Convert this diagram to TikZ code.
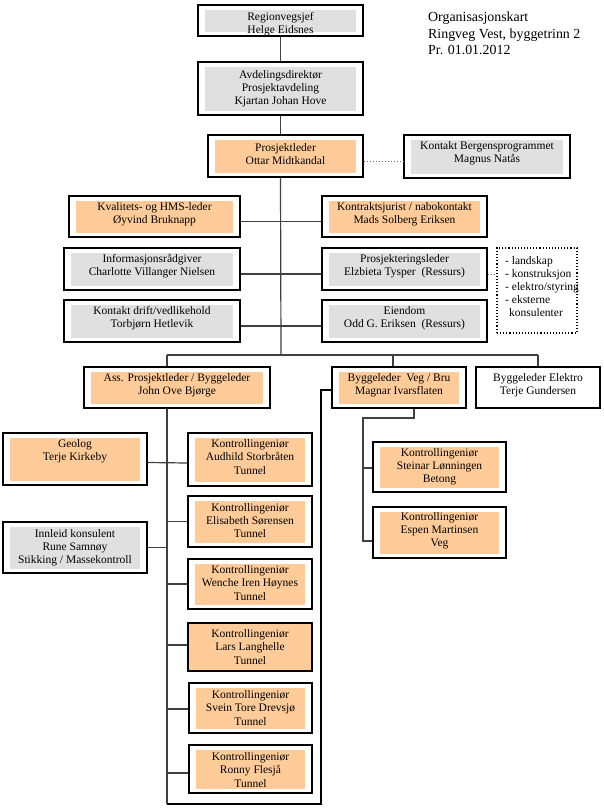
\documentclass[tikz,border=0pt]{standalone}
\usepackage{fontspec}
\setmainfont{Liberation Serif}
\usetikzlibrary{calc}
\definecolor{boxgray}{RGB}{224,224,224}
\definecolor{boxorange}{RGB}{255,204,153}
\newcommand\boxfont{\fontsize{11.5}{13.2}\selectfont}
\newcommand\titlefont{\fontsize{13.9}{16.4}\selectfont}
\tikzset{
  box/.style={draw=black, line width=1.3pt, fill=white, inner sep=0pt},
  ginner/.style={path picture={\fill[#1] ([xshift=7pt,yshift=-4.5pt]path picture bounding box.north west) rectangle ([xshift=-7pt,yshift=4.5pt]path picture bounding box.south east);}},
  gbox/.style={box, ginner=boxgray},
  obox/.style={box, ginner=boxorange},
  fullbox/.style={box, fill=boxorange},
  boxtext/.style={align=center, font=\boxfont, inner sep=0pt},
  conn/.style={draw=black!75, line width=1.2pt},
  dotline/.style={draw=black!55, line width=1pt, dotted},
}
% #1 style, #2 name, #3 cx, #4 cy, #5 width, #6 height, #7 text offset (down), #8 text
\newcommand\orgbox[8]{%
  \node[#1, minimum width=#5pt, minimum height=#6pt] (#2) at (#3,#4) {};
  \node[boxtext] (#2-t) at ($(#2.center)+(0,#7)$) {#8};
}
\begin{document}
\begin{tikzpicture}[x=1pt,y=-1pt]
\fill[white] (0,0) rectangle (603,809);
\useasboundingbox (0,0) rectangle (603,809);

% title
\node[anchor=north west, align=left, font=\titlefont, inner sep=0pt] (title) at (428,12)
  {Organisasjonskart\\Ringveg Vest, byggetrinn 2\\Pr. 01.01.2012};

% top chain
\orgbox{gbox}{rv}{280.5}{20.5}{165}{31}{4}{Regionvegsjef\\Helge Eidsnes}
\orgbox{gbox}{ad}{280.5}{88.5}{165}{53}{0}{Avdelingsdirektør\\Prosjektavdeling\\Kjartan Johan Hove}
\orgbox{obox}{pl}{285.5}{156}{155}{42}{-2}{Prosjektleder\\Ottar Midtkandal}
\orgbox{gbox}{kb}{487}{156.5}{166}{43}{-3}{Kontakt Bergensprogrammet\\Magnus Natås}

% staff
\orgbox{obox}{kv}{154.5}{216.5}{171}{41}{-2}{Kvalitets- og HMS-leder\\Øyvind Bruknapp}
\orgbox{obox}{kj}{404.5}{216.5}{165}{41}{-2}{Kontraktsjurist / nabokontakt\\Mads Solberg Eriksen}
\orgbox{gbox}{ir}{152}{269}{176}{42}{-3}{Informasjonsrådgiver\\Charlotte Villanger Nielsen}
\orgbox{gbox}{pr}{404.5}{269}{165}{42}{-2.5}{Prosjekteringsleder\\Elzbieta Tysper~~(Ressurs)}
\node[draw=black, dotted, line width=1.1pt, minimum width=80pt, minimum height=85pt, inner sep=0pt] (list) at (537,290.5) {};
\node[anchor=north west, align=left, font=\boxfont, inner sep=0pt] (listtext) at (505,256)
  {- landskap\\- konstruksjon\\- elektro/styring\\- eksterne\\\hspace*{4pt}konsulenter};
\orgbox{gbox}{kd}{152}{321}{176}{42}{-3}{Kontakt drift/vedlikehold\\Torbjørn Hetlevik}
\orgbox{gbox}{ei}{404.5}{321}{165}{42}{-3}{Eiendom\\Odd G. Eriksen~~(Ressurs)}

% second level
\orgbox{obox}{ass}{177}{387.5}{186}{41}{-2}{Ass. Prosjektleder / Byggeleder\\John Ove Bjørge}
\orgbox{obox}{veg}{399}{387.5}{134}{41}{-2}{Byggeleder~~Veg / Bru\\Magnar Ivarsflaten}
\orgbox{box}{el}{538}{387.5}{124}{41}{-2}{Byggeleder Elektro\\Terje Gundersen}

% left column
\orgbox{obox}{geo}{75}{459}{144}{52}{-8}{Geolog\\Terje Kirkeby}
\orgbox{gbox}{inn}{75}{547.5}{144}{51}{0}{Innleid konsulent\\Rune Samnøy\\Stikking / Massekontroll}

% control engineers under Ass.
\orgbox{obox}{k1}{250}{459.5}{124}{53}{-2.5}{Kontrollingeniør\\Audhild Storbråten\\Tunnel}
\orgbox{obox}{k2}{250}{521.5}{124}{51}{-1}{Kontrollingeniør\\Elisabeth Sørensen\\Tunnel}
\orgbox{obox}{k3}{250}{584}{124}{50}{-1}{Kontrollingeniør\\Wenche Iren Høynes\\Tunnel}
\orgbox{fullbox}{k4}{250}{647}{124}{48}{0}{Kontrollingeniør\\Lars Langhelle\\Tunnel}
\orgbox{obox}{k5}{250.5}{708}{123}{50}{0}{Kontrollingeniør\\Svein Tore Drevsjø\\Tunnel}
\orgbox{obox}{k6}{250.5}{769}{123}{48}{1}{Kontrollingeniør\\Ronny Flesjå\\Tunnel}

% control engineers under Veg / Bru
\orgbox{obox}{s1}{439.5}{467}{133}{50}{0}{Kontrollingeniør\\Steinar Lønningen\\Betong}
\orgbox{obox}{s2}{439.5}{532.5}{133}{51}{-1.5}{Kontrollingeniør\\Espen Martinsen\\Veg}

% junction coordinates
\coordinate (bus) at (281,355);
\coordinate (busL) at (167,355);
\coordinate (busV) at (393,355);
\coordinate (busR) at (538,355);
\coordinate (aB) at (167,804);
\coordinate (vC) at (321,804);
\coordinate (vg2) at (363,418);

% connectors
\draw[conn] (rv.south) -- (ad.north);
\draw[conn] (ad.south) -- (ad.south |- pl.north);
\draw[dotline] ([yshift=-5pt]pl.east) -- ([yshift=-5pt]pl.east -| kb.west);
\draw[conn] (ad.south |- pl.south) -- (bus);
\draw[conn] ([yshift=-5pt]kv.east) -- ([yshift=-5pt]kj.west);
\draw[conn] ([yshift=-5pt]ir.east) -- ([yshift=-5pt]pr.west);
\draw[conn] ([yshift=-5pt]kd.east) -- ([yshift=-5pt]ei.west);
\draw[dotline] ([yshift=-5pt]pr.east) -- ([yshift=-5pt]pr.east -| list.west);
\draw[conn] (busL) -- (busR);
\draw[conn] (busL) -- (busL |- ass.north);
\draw[conn] (busV) -- (busV |- veg.north);
\draw[conn] (busR) -- (el.north);
\draw[conn] (busL |- ass.south) -- (aB);
\draw[conn] ([yshift=-3.5pt]geo.east) -- ([yshift=-3.5pt]k1.west);
\draw[conn] (k2.west) -- (k2.west -| aB);
\draw[conn] (inn.east) -- (inn.east -| aB);
\draw[conn] (k3.west) -- (k3.west -| aB);
\draw[conn] ([yshift=2pt]k4.west) -- ([yshift=2pt]k4.west -| aB);
\draw[conn] ([yshift=-1pt]k5.west) -- ([yshift=-1pt]k5.west -| aB);
\draw[conn] ([yshift=-4pt]k6.west) -- ([yshift=-4pt]k6.west -| aB);
\draw[conn, draw=black] (aB) -- (vC) |- ([yshift=-2.5pt]veg.west);
\draw[conn] ([xshift=15pt]veg.south) |- (vg2) |- ([yshift=-8.5pt]s2.west);
\draw[conn] ([yshift=-1pt]s1.west) -- ([yshift=-1pt]s1.west -| vg2);
\end{tikzpicture}
\end{document}
